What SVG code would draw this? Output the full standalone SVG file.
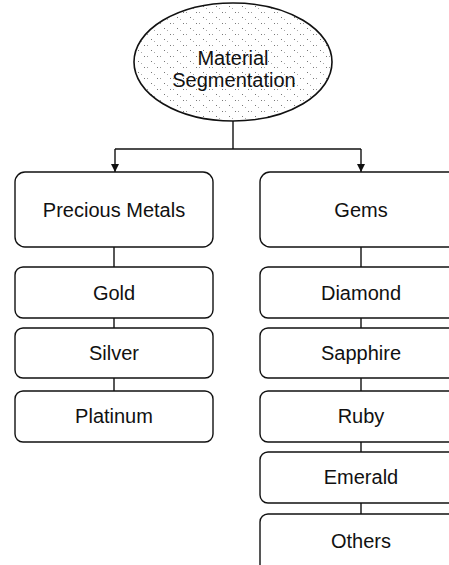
<svg xmlns="http://www.w3.org/2000/svg" width="449" height="565" viewBox="0 0 449 565">
  <style>
    .box { fill: #ffffff; stroke: #111111; stroke-width: 1.4; }
    .lbl { font-family: "Liberation Sans", Arial, sans-serif; font-size: 20px; fill: #111111; text-anchor: middle; dominant-baseline: central; }
    .wire { fill: none; stroke: #111111; stroke-width: 1.4; }
  </style>
  <defs>
    <!-- sparse stipple used inside the root ellipse -->
    <pattern id="stipple" width="13" height="11" patternUnits="userSpaceOnUse">
      <rect x="1" y="1" width="1" height="1" fill="#777"/>
      <rect x="4" y="1" width="1" height="1" fill="#999"/>
      <rect x="8" y="6" width="1" height="1" fill="#777"/>
      <rect x="11" y="8" width="1" height="1" fill="#aaa"/>
    </pattern>
    <marker id="arrow" markerWidth="10" markerHeight="10" refX="9" refY="5" orient="auto" markerUnits="userSpaceOnUse" viewBox="0 0 10 10">
      <path d="M1,1 L9,5 L1,9 Z" fill="#111111"/>
    </marker>
  </defs>

  <!-- connectors -->
  <g id="connectors">
    <path class="wire" d="M233,121 V149"/>
    <path class="wire" d="M115,149 H361"/>
    <path class="wire" d="M115,149 V172" marker-end="url(#arrow)"/>
    <path class="wire" d="M361,149 V172" marker-end="url(#arrow)"/>
    <path class="wire" d="M114,247 V267 M114,318 V328 M114,378 V391"/>
    <path class="wire" d="M361,247 V267 M361,318 V328 M361,378 V391 M361,442 V452 M361,503 V514"/>
  </g>

  <!-- root -->
  <g id="root">
    <ellipse cx="233" cy="62" rx="99" ry="59" fill="#ffffff"/>
    <ellipse cx="233" cy="62" rx="99" ry="59" fill="url(#stipple)" stroke="#111111" stroke-width="1.6"/>
    <text class="lbl" x="233" y="58">Material</text>
    <text class="lbl" x="234" y="80">Segmentation</text>
  </g>

  <!-- left column -->
  <g id="precious-metals">
    <rect class="box" x="15" y="172" width="198" height="75" rx="10"/>
    <text class="lbl" x="114" y="210">Precious Metals</text>
  </g>
  <g id="gold">
    <rect class="box" x="15" y="267" width="198" height="51" rx="8"/>
    <text class="lbl" x="114" y="293">Gold</text>
  </g>
  <g id="silver">
    <rect class="box" x="15" y="328" width="198" height="50" rx="8"/>
    <text class="lbl" x="114" y="353">Silver</text>
  </g>
  <g id="platinum">
    <rect class="box" x="15" y="391" width="198" height="51" rx="8"/>
    <text class="lbl" x="114" y="416">Platinum</text>
  </g>

  <!-- right column -->
  <g id="gems">
    <rect class="box" x="260" y="172" width="202" height="75" rx="10"/>
    <text class="lbl" x="361" y="210">Gems</text>
  </g>
  <g id="diamond">
    <rect class="box" x="260" y="267" width="202" height="51" rx="8"/>
    <text class="lbl" x="361" y="293">Diamond</text>
  </g>
  <g id="sapphire">
    <rect class="box" x="260" y="328" width="202" height="50" rx="8"/>
    <text class="lbl" x="361" y="353">Sapphire</text>
  </g>
  <g id="ruby">
    <rect class="box" x="260" y="391" width="202" height="51" rx="8"/>
    <text class="lbl" x="361" y="416">Ruby</text>
  </g>
  <g id="emerald">
    <rect class="box" x="260" y="452" width="202" height="51" rx="8"/>
    <text class="lbl" x="361" y="477">Emerald</text>
  </g>
  <g id="others">
    <rect class="box" x="260" y="514" width="202" height="60" rx="8"/>
    <text class="lbl" x="361" y="541">Others</text>
  </g>
</svg>
